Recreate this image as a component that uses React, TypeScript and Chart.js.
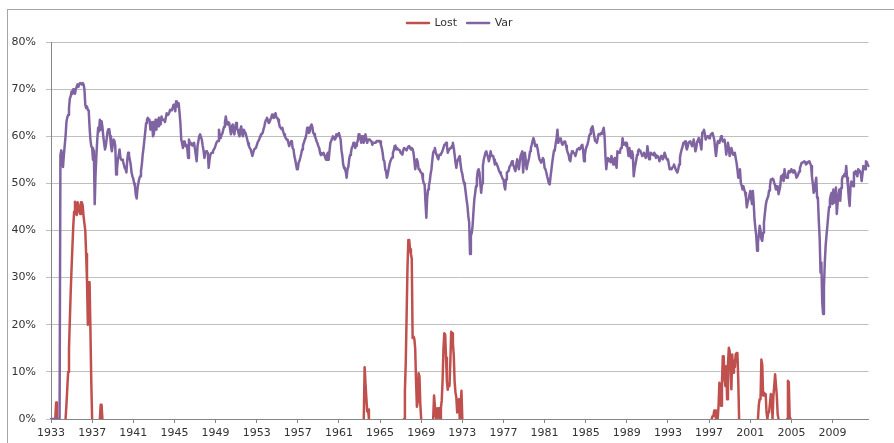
import React, { useEffect, useRef } from 'react';
import { Chart, registerables } from 'chart.js';

Chart.register(...registerables);

const START_YEAR = 1933;
const TICK_EVERY = 48; // one label every 4 years of monthly data
const _ = null;

// Var, monthly, in %, one row per year (Jan..Dec)
const VAR: number[] = [
  /*1933*/ 0, 0, 0, 0, 0, 0, 0, 0, 0, 0, 0, 56,
  /*1934*/ 57, 56, 53.5, 56, 58, 60, 63, 64, 64.5, 66, 68, 68.5,
  /*1935*/ 69.5, 69, 70, 70, 69, 70, 70.5, 71, 70.5, 71, 71.3, 71.3,
  /*1936*/ 71, 71.3, 71, 70, 66.7, 66, 66.3, 65.6, 65.5, 62, 59.3, 57.9,
  /*1937*/ 57.5, 55, 57, 45.6, 52, 56, 59.3, 61.8, 61, 63.5, 61.4, 63.2,
  /*1938*/ 62, 60, 58.5, 57.2, 58, 59.5, 61, 61.5, 61.5, 60, 58, 56.8,
  /*1939*/ 58, 59.3, 59, 58, 51.9, 53, 55, 56, 57.2, 55.5, 55, 55,
  /*1940*/ 54.7, 54, 53.3, 53, 52.3, 55, 56.5, 56, 55, 54, 52.3, 51.5,
  /*1941*/ 51, 50, 49.4, 47.5, 46.8, 49, 50.1, 51, 51.5, 52.6, 54, 56.1,
  /*1942*/ 57.5, 59.3, 61, 62.8, 63.5, 63.9, 63.5, 63.5, 61.4, 62.5, 63, 60,
  /*1943*/ 60.5, 62, 63.5, 61.4, 63.5, 62.1, 63.9, 62.5, 62.5, 64.2, 63.5, 63.5,
  /*1944*/ 63.5, 63, 64, 64.9, 64.5, 64.6, 65, 65.6, 65.6, 65.5, 66, 66.7,
  /*1945*/ 66.7, 65.3, 67.4, 66.3, 66.5, 67, 65, 62.8, 59.3, 58.5, 57.5, 58.9,
  /*1946*/ 58.9, 57.9, 58.2, 57.5, 55.4, 59.3, 58.6, 58.6, 58.2, 58, 58.5, 58.6,
  /*1947*/ 58.6, 56, 54.7, 57.9, 59, 60, 60.4, 60.4, 59.3, 58, 57, 55.4,
  /*1948*/ 56.5, 56.8, 56.6, 56.5, 53.3, 55, 56.1, 56.4, 56.5, 56.8, 57.2, 57.5,
  /*1949*/ 58, 58.6, 58.9, 59, 61.4, 60, 59.6, 60.3, 60.6, 61.4, 62, 63,
  /*1950*/ 64.2, 63, 62.5, 63, 62.8, 61.5, 60.4, 62, 62.5, 61, 60.4, 62,
  /*1951*/ 62.8, 61.5, 61.4, 60.5, 60, 61.5, 62.1, 60.5, 60, 61.4, 61, 60.7,
  /*1952*/ 60, 59.3, 58.5, 57.9, 57.5, 57.2, 56.5, 55.8, 56.5, 57.2, 57.2, 57.5,
  /*1953*/ 58, 58.6, 59, 59.3, 60, 60.4, 60.5, 60.7, 61.5, 62.1, 63, 63.5,
  /*1954*/ 63.9, 63.5, 62.8, 63, 63.5, 64, 64.6, 64, 63.9, 64.3, 64.9, 64,
  /*1955*/ 63.9, 63.5, 62.8, 62, 61.8, 61.5, 61.8, 61, 60.4, 60, 59.6, 59.3,
  /*1956*/ 59.3, 58.6, 57.9, 58.6, 58.9, 59, 57.5, 57.2, 55.8, 55, 54, 53,
  /*1957*/ 53, 54.4, 54.8, 55.5, 56.3, 57.2, 58, 58.6, 59.2, 59.6, 60.5, 61.8,
  /*1958*/ 61.8, 60.7, 61, 62.1, 62.5, 62, 60.7, 60.5, 60, 59.5, 58.9, 58.5,
  /*1959*/ 57.9, 57.5, 56.5, 56, 56.1, 56.3, 56.5, 56, 55.5, 55, 56, 56.5,
  /*1960*/ 55, 56.8, 58.6, 59, 59.6, 60, 59.8, 59.3, 59.5, 60.4, 60, 60.5,
  /*1961*/ 60.7, 60, 59.3, 57, 55.8, 54, 53.3, 53, 52.5, 51.2, 53, 53.5,
  /*1962*/ 55.1, 56, 56.5, 57.5, 57.9, 58.6, 58.6, 57.5, 58, 58.6, 59, 60.4,
  /*1963*/ 60.4, 59.5, 58.6, 60, 59.3, 58.6, 59.5, 60.4, 59.3, 58.6, 59.3, 59.3,
  /*1964*/ 59.3, 59, 58.9, 58.2, 58.6, 58.6, 58.6, 58.6, 59, 59, 58.9, 59,
  /*1965*/ 58.9, 58.2, 57.5, 56.5, 55, 54.7, 53, 52.5, 51.2, 52, 53, 54,
  /*1966*/ 54.7, 55.1, 55.5, 56.5, 57, 57.9, 58, 57.2, 57.5, 57.2, 57.2, 57,
  /*1967*/ 56.5, 56.3, 56.1, 57, 57.5, 57.5, 57.2, 57, 57.5, 57.8, 57.9, 57.5,
  /*1968*/ 57.2, 57.5, 57.3, 56.5, 55, 53, 54, 55.1, 54.5, 53, 53, 52.5,
  /*1969*/ 52.3, 52, 50.8, 50, 49.8, 46, 42.7, 47, 48.7, 49.5, 50.5, 52,
  /*1970*/ 53, 55, 56.5, 57, 57.5, 56.5, 56.1, 55.5, 55.1, 56, 56.1, 56.3,
  /*1971*/ 56.5, 57, 57.5, 58.2, 58.2, 58.6, 58, 56.5, 57, 57.2, 57.5, 57.5,
  /*1972*/ 58, 58.6, 57.5, 56.1, 54.5, 53.3, 54.5, 55.1, 55.5, 55.8, 54, 52.6,
  /*1973*/ 52, 50.8, 50.1, 49.5, 48, 46.5, 45.2, 43, 41.7, 35, 38.9, 39.5,
  /*1974*/ 41, 44, 46.6, 48, 49.4, 51, 52.6, 53, 52.3, 50, 48, 50,
  /*1975*/ 53.7, 55, 55.8, 56.5, 56.8, 56.1, 55.5, 54.7, 55.5, 56.8, 56, 55.8,
  /*1976*/ 55.8, 55, 54, 54.4, 54.2, 53.7, 53.2, 52.6, 52.3, 51.9, 51.5, 51,
  /*1977*/ 50.8, 49.5, 48.7, 50.8, 52.3, 52.5, 52.6, 53.5, 53.7, 54.2, 54.7, 54,
  /*1978*/ 53.7, 53, 52.6, 54, 55.1, 54, 53, 54.5, 55.8, 56.3, 56.8, 52.3,
  /*1979*/ 55, 56.5, 55, 53, 54, 54.7, 55.5, 56.8, 57.5, 58.2, 59, 59.6,
  /*1980*/ 59, 57.9, 58.2, 58, 57.2, 56, 55.1, 54.8, 54.4, 55, 55.4, 55,
  /*1981*/ 53.3, 53, 52.3, 51.5, 50.8, 50, 49.8, 51.5, 53, 54.5, 55.8, 57,
  /*1982*/ 57.2, 58.5, 59.6, 61.4, 58.6, 59.3, 59.5, 59.3, 58.5, 58.2, 58.6, 58.9,
  /*1983*/ 58.9, 58, 57.2, 56.5, 56.1, 55, 54.7, 56, 56.8, 56.5, 56.5, 56.3,
  /*1984*/ 55.8, 56.5, 57.2, 57.3, 57.5, 57.2, 57.5, 58, 58.2, 57, 54.7, 56,
  /*1985*/ 57.2, 57.8, 58.2, 59, 60, 60.5, 61.4, 61.8, 62.1, 61, 60, 59,
  /*1986*/ 58.9, 58.6, 59.5, 60.4, 60.5, 60.4, 60.7, 60.5, 61.2, 61.8, 60, 55.8,
  /*1987*/ 53, 54.7, 55.4, 55, 55.1, 54.5, 55.8, 55, 54, 55, 55.4, 54.5,
  /*1988*/ 53.3, 56.8, 56.5, 56.5, 56.8, 57.5, 57.5, 59.6, 58.2, 58.5, 58.6, 58,
  /*1989*/ 58.6, 57.2, 55.8, 57.5, 56, 55.4, 56.8, 56, 51.5, 53, 54, 55,
  /*1990*/ 56.1, 56.8, 57.2, 57, 56.8, 56.3, 55.8, 56, 56.5, 56, 55.4, 55.8,
  /*1991*/ 57.9, 56.5, 55.1, 55.8, 56.5, 56.3, 56.1, 56, 56.5, 56, 55.4, 55.8,
  /*1992*/ 55.8, 55.5, 54.7, 55.2, 55.8, 55.5, 55.1, 55.5, 56.5, 56, 55.4, 55,
  /*1993*/ 55.1, 54, 53, 53.2, 53, 53.3, 53.6, 54, 53.5, 53, 52.6, 52.3,
  /*1994*/ 53, 54, 55.5, 56.5, 57.2, 57.8, 58.6, 58.6, 58.9, 58, 57.2, 57.8,
  /*1995*/ 58.6, 58.8, 58.9, 58.5, 57.9, 58.5, 59.3, 58, 56.8, 57.5, 58.9, 59.2,
  /*1996*/ 59.6, 59, 58.2, 57.2, 60.7, 61, 61.4, 60.5, 59.3, 59.8, 60, 60,
  /*1997*/ 59.6, 59.8, 60.4, 60.5, 60.7, 60, 59.3, 57.5, 55.8, 57.5, 58.9, 59,
  /*1998*/ 58.6, 59.3, 60, 59.5, 58.9, 59, 59.3, 58, 56.1, 57.5, 58.6, 57.5,
  /*1999*/ 55.8, 56.5, 57.5, 56.8, 56.1, 56.3, 56.5, 55.4, 54.4, 53, 51.2, 52,
  /*2000*/ 53, 50.1, 49.5, 48.7, 49.4, 48.7, 48, 47, 44.9, 46, 46.6, 47.5,
  /*2001*/ 48.4, 47, 45.6, 48.4, 45.9, 42.4, 40.5, 38.9, 35.7, 37.5, 38.9, 41,
  /*2002*/ 40, 38.2, 37.8, 39.5, 41.7, 43.5, 45.2, 46.3, 46.8, 47.3, 48.5, 49.4,
  /*2003*/ 50.8, 50.8, 51, 50.8, 50.1, 49.5, 48.7, 49, 49.4, 47.7, 48.5, 49.4,
  /*2004*/ 51.5, 50.8, 51.9, 50.5, 53, 51.5, 51.2, 51.2, 52, 52.6, 52.3, 52.5,
  /*2005*/ 53, 52.5, 52.3, 52.8, 52.6, 52, 51.2, 51.5, 51.9, 52.5, 53.3, 53.8,
  /*2006*/ 54.4, 54.4, 54.5, 54.7, 54.5, 54, 54.2, 54.4, 54.6, 54.7, 54.2, 53.7,
  /*2007*/ 51.5, 50, 48, 48.4, 50, 51.2, 47, 46.6, 42, 38.5, 31.1, 33.2,
  /*2008*/ 24.8, 22.3, 28, 33.2, 36.8, 39, 41, 43.1, 45, 46.6, 47.5, 48,
  /*2009*/ 45.6, 48.7, 45.9, 48, 49.1, 43.5, 45.9, 47.5, 48.7, 46.3, 49, 50.8,
  /*2010*/ 51.5, 51.5, 52, 51.5, 53.7, 51.2, 49.4, 47, 45.2, 49.4, 50.4, 50,
  /*2011*/ 49.4, 52.3, 52, 52.6, 52, 51.5, 53, 52.6, 52.3, 52.3, 50.5, 52,
  /*2012*/ 53.7, 53.5, 53, 54.7, 54.5, 54, 53.7,
];

// Lost, monthly, in %, only the years where it shows (blank elsewhere)
const LOST_YEARS: [number, (number | null)[]][] = [
  [1933, [_, _, _, _, _, 0, 3.5, 0, _, _, _, _]],
  [1934, [_, _, _, _, _, 0, 3, 6.5, 10, 15, 21, 27]],
  [1935, [32, 36.6, 41, 44, 46.1, 44, 43.3, 46, 45.4, 44, 43.5, 46]],
  [1936, [46, 45.3, 43, 41.5, 40, 35, 29.5, 20, 29, 29, 19, 8]],
  [1937, [0, _, _, _, _, _, _, _, _, 0, 3, 3]],
  [1938, [0, _, _, _, _, _, _, _, _, _, _, _]],
  [1963, [_, _, _, _, _, 0, 11, 7.5, 4.5, 1.6, 2, 0]],
  [1967, [_, _, _, _, 0, 6, 12, 22, 32, 38, 38, 36]],
  [1968, [35, 34, 17.2, 17.5, 17, 15, 8, 2.6, 3.7, 9.7, 9, 3]],
  [1969, [0, _, _, _, _, _, _, _, _, _, _, _]],
  [1970, [_, _, 0, 5, 5, 0.5, 0, 2.3, 0.3, 2.3, 0, 2.3]],
  [1971, [4, 8.3, 15, 18.2, 17.9, 13, 8, 6.2, 7.5, 7, 12, 18.5]],
  [1972, [18.2, 16, 13.6, 8, 5.6, 4.6, 1.4, 3, 4.2, 0, 3, 6]],
  [1973, [0, _, _, _, _, _, _, _, _, _, _, _]],
  [1997, [_, _, _, 0, 0.6, 0.6, 1.8, 1.8, 0, 0, 0, 2.8]],
  [1998, [7.7, 5, 2.8, 7.7, 13.3, 13.3, 8.4, 7, 11.2, 4.2, 11.6, 15.1]],
  [1999, [14.4, 10, 6.3, 13.7, 9.8, 12.3, 11, 13.7, 14, 14, 8.4, 0]],
  [2001, [_, _, _, _, _, _, _, _, _, 0, 3, 4.2]],
  [2002, [4.2, 12.6, 11.5, 5, 5.6, 5.3, 5.3, 1.4, 0, 1.4, 1.4, 1.4]],
  [2003, [5.3, 5, 0, 4.9, 7, 9.5, 9.5, 5, 1, 0, _, _]],
  [2004, [_, _, _, _, _, _, _, 0, 8.1, 7.8, 0.5, 0]],
];

const Y_TICKS_MAX = 80;
const Y_TICKS_STEP = 10;

const N = VAR.length;
const LABELS: string[] = Array.from({ length: N }, (u, i) => String(START_YEAR + Math.floor(i / 12)));
const LOST: (number | null)[] = new Array(N).fill(null);
for (const [year, vals] of LOST_YEARS) {
  vals.forEach((v, k) => {
    const idx = (year - START_YEAR) * 12 + k;
    if (idx < N) LOST[idx] = v;
  });
}

const FONT = 'DejaVu Sans';
const TEXT = '#333333';

const framePlugin = {
  id: 'frame',
  beforeDraw(chart: any) {
    const ctx = chart.ctx;
    ctx.save();
    ctx.fillStyle = '#ffffff';
    ctx.fillRect(0, 0, chart.width, chart.height);
    ctx.strokeStyle = '#a6a6a6';
    ctx.lineWidth = 1;
    ctx.strokeRect(7.5, 9.5, chart.width + 20, chart.height + 20);
    ctx.restore();
  },
};

export default function App() {
  const ref = useRef<HTMLCanvasElement | null>(null);

  useEffect(() => {
    if (!ref.current) return;
    const chart = new Chart(ref.current, {
      type: 'line',
      data: {
        labels: LABELS,
        datasets: [
          {
            label: 'Lost',
            data: LOST,
            borderColor: '#C0504D',
            backgroundColor: '#C0504D',
            borderWidth: 2.5,
            pointRadius: 0,
            order: 2,
            spanGaps: false,
          },
          {
            label: 'Var',
            data: VAR,
            borderColor: '#8064A2',
            backgroundColor: '#8064A2',
            borderWidth: 2.5,
            pointRadius: 0,
            order: 1,
          },
        ],
      },
      options: {
        animation: false,
        responsive: false,
        devicePixelRatio: 1,
        events: [],
        layout: { padding: { left: 0, right: 25.5, top: 7.5, bottom: 0 } },
        elements: { line: { tension: 0, borderJoinStyle: 'round', borderCapStyle: 'round' } },
        plugins: {
          legend: {
            position: 'top',
            fullSize: false,
            weight: 3000,
            labels: {
              boxWidth: 22,
              boxHeight: 0,
              padding: 10,
              color: TEXT,
              font: { family: FONT, size: 11 },
              sort: (a: any, b: any) => a.datasetIndex - b.datasetIndex,
            },
          },
          title: {
            display: true,
            text: '',
            padding: 0,
            font: { size: 7, lineHeight: 0.5 },
          },
          tooltip: { enabled: false },
        },
        scales: {
          x: {
            type: 'category',
            afterFit: (scale: any) => {
              scale.height = 24;
            },
            grid: {
              drawOnChartArea: false,
              drawTicks: true,
              tickLength: 4,
              color: (c: any) => (c.index % TICK_EVERY === 0 ? '#868686' : 'rgba(0,0,0,0)'),
            },
            border: { color: '#868686', width: 1 },
            ticks: {
              autoSkip: false,
              maxRotation: 0,
              minRotation: 0,
              padding: 4,
              color: TEXT,
              font: { family: FONT, size: 11 },
              callback: (v: any, i: number) => (i % TICK_EVERY === 0 ? LABELS[i] : ''),
            },
          },
          y: {
            min: 0,
            max: Y_TICKS_MAX,
            afterFit: (scale: any) => {
              scale.width = 51;
            },
            grid: { color: '#bfbfbf', tickLength: 5, drawTicks: true },
            border: { color: '#868686', width: 1 },
            ticks: {
              stepSize: Y_TICKS_STEP,
              padding: 10,
              color: TEXT,
              font: { family: FONT, size: 11 },
              callback: (v: any) => v + '%',
            },
          },
        },
      },
      plugins: [framePlugin],
    } as any);
    return () => chart.destroy();
  }, []);

  return (
    <div style={{ position: 'absolute', left: 0, top: 0, width: 894, height: 443 }}>
      <canvas ref={ref} width={894} height={443} style={{ width: 894, height: 443, display: 'block' }} />
    </div>
  );
}
